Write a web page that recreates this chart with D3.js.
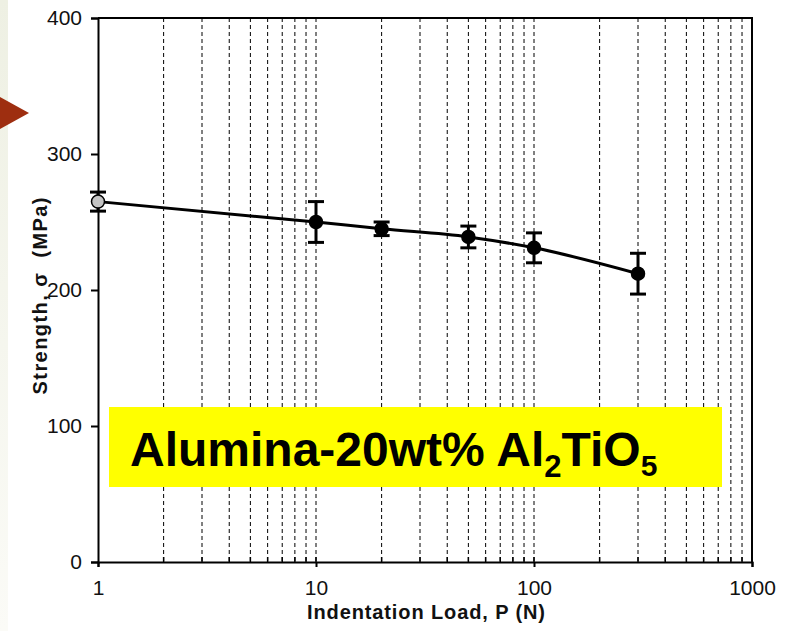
<!DOCTYPE html>
<html>
<head>
<meta charset="utf-8">
<script src="https://cdn.jsdelivr.net/npm/d3@7"></script>
<style>
  body { margin: 0; background: #fff; }
  svg { display: block; font-family: "Liberation Sans", Arial, sans-serif; }
  .axis text { fill: #111; font-size: 21px; }
  .axis path, .axis line { stroke: #000; stroke-width: 2; }
  .grid { stroke: #000; stroke-width: 1; stroke-dasharray: 4,3; }
  .axisLabel { font-weight: bold; fill: #111; }
</style>
</head>
<body>
<div id="chart"></div>
<script>
const width = 788;
const height = 631;
const plot = { left: 98, right: 752, top: 18, bottom: 562 };

// readings from the figure
const loads = [1, 10, 20, 50, 100, 300];
const strength = [265, 250, 245, 239, 231, 212];
const errors = [7, 15, 5, 8, 11, 15];
const xTicks = [1, 10, 100, 1000];
const yTicks = [0, 100, 200, 300, 400];

const svg = d3.select('#chart')
    .append('svg')
    .attr('width', width)
    .attr('height', height);

// slide decoration on the left
const bg = svg.append('defs').append('linearGradient')
    .attr('id', 'strip')
    .attr('x1', 0).attr('y1', 0).attr('x2', 0).attr('y2', 1);
bg.append('stop').attr('offset', '0%').attr('stop-color', '#eef0e3');
bg.append('stop').attr('offset', '100%').attr('stop-color', '#fbfbf7');
svg.append('rect')
    .attr('x', 0).attr('y', 0)
    .attr('width', 8).attr('height', height)
    .attr('fill', 'url(#strip)');
svg.append('path')
    .attr('d', 'M0,97L29,113L0,129Z')
    .attr('fill', '#9e2e10');

const xScale = d3.scaleLog()
    .domain([1, 1000])
    .range([plot.left, plot.right]);
const yScale = d3.scaleLinear()
    .domain([0, 400])
    .range([plot.bottom, plot.top]);

// minor + decade grid positions (2..10, 20..100, 200..900)
let gridVals = [];
[1, 10, 100].forEach(function (dec) {
    for (let m = 2; m <= 10; m++) {
        if (dec * m < 1000) gridVals.push(dec * m);
    }
});

svg.selectAll('.grid')
    .data(gridVals)
    .enter()
    .append('line')
    .attr('class', 'grid')
    .attr('x1', function (d) { return xScale(d); })
    .attr('x2', function (d) { return xScale(d); })
    .attr('y1', plot.top)
    .attr('y2', plot.bottom);

// small inner ticks on the x axis
svg.selectAll('.minor')
    .data(gridVals)
    .enter()
    .append('line')
    .attr('class', 'minor')
    .attr('x1', function (d) { return xScale(d); })
    .attr('x2', function (d) { return xScale(d); })
    .attr('y1', plot.bottom)
    .attr('y2', plot.bottom - 5)
    .attr('stroke', '#000')
    .attr('stroke-width', 1.5);

// frame
svg.append('path')
    .attr('d', 'M' + plot.left + ',' + plot.top + 'H' + plot.right + 'V' + plot.bottom)
    .attr('fill', 'none')
    .attr('stroke', '#000')
    .attr('stroke-width', 2);

const xAxis = d3.axisBottom(xScale)
    .tickValues(xTicks)
    .tickFormat(d3.format('d'))
    .tickSizeOuter(0)
    .tickSize(5)
    .tickPadding(13);
svg.append('g')
    .attr('class', 'axis')
    .attr('transform', 'translate(0,' + plot.bottom + ')')
    .call(xAxis);

const yAxis = d3.axisLeft(yScale)
    .tickValues(yTicks)
    .tickSizeOuter(0)
    .tickSize(7)
    .tickPadding(9);
svg.append('g')
    .attr('class', 'axis')
    .attr('transform', 'translate(' + plot.left + ',0)')
    .call(yAxis);

svg.append('text')
    .attr('class', 'axisLabel')
    .attr('x', 426)
    .attr('y', 619)
    .attr('text-anchor', 'middle')
    .attr('font-size', 20)
    .attr('textLength', 238)
    .text('Indentation Load, P (N)');

svg.append('text')
    .attr('class', 'axisLabel')
    .attr('transform', 'translate(47,296) rotate(-90)')
    .attr('text-anchor', 'middle')
    .attr('font-size', 20)
    .attr('textLength', 197)
    .attr('xml:space', 'preserve')
    .text('Strength, σ  (MPa)');

// yellow label box
svg.append('rect')
    .attr('x', 109)
    .attr('y', 407)
    .attr('width', 613)
    .attr('height', 80)
    .attr('fill', '#ffff00');
const lbl = svg.append('text')
    .attr('x', 130)
    .attr('y', 466)
    .attr('font-size', 48)
    .attr('font-weight', 'bold')
    .attr('fill', '#000');
lbl.append('tspan').text('Alumina-20wt% Al');
lbl.append('tspan').attr('dy', 11).attr('font-size', 31).text('2');
lbl.append('tspan').attr('dy', -11).text('TiO');
lbl.append('tspan').attr('dy', 10).attr('font-size', 30).text('5');

// curve through the means
const pts = loads.map(function (d, i) {
    return [xScale(d), yScale(strength[i])];
});
svg.append('path')
    .attr('d', d3.line().curve(d3.curveMonotoneX)(pts))
    .attr('fill', 'none')
    .attr('stroke', '#000')
    .attr('stroke-width', 3);

const bars = svg.selectAll('.err')
    .data(loads)
    .enter()
    .append('g')
    .attr('class', 'err');
bars.append('line')
    .attr('x1', function (d) { return xScale(d); })
    .attr('x2', function (d) { return xScale(d); })
    .attr('y1', function (d, i) { return yScale(strength[i] + errors[i]); })
    .attr('y2', function (d, i) { return yScale(strength[i] - errors[i]); })
    .attr('stroke', '#000')
    .attr('stroke-width', 3);
[1, -1].forEach(function (s) {
    bars.append('line')
        .attr('x1', function (d) { return xScale(d) - 8; })
        .attr('x2', function (d) { return xScale(d) + 8; })
        .attr('y1', function (d, i) { return yScale(strength[i] + s * errors[i]); })
        .attr('y2', function (d, i) { return yScale(strength[i] + s * errors[i]); })
        .attr('stroke', '#000')
        .attr('stroke-width', 3);
});

svg.selectAll('.dot')
    .data(loads)
    .enter()
    .append('circle')
    .attr('class', 'dot')
    .attr('cx', function (d) { return xScale(d); })
    .attr('cy', function (d, i) { return yScale(strength[i]); })
    .attr('r', 6.5)
    .attr('fill', function (d, i) { return i === 0 ? '#c4c4c4' : '#000'; })
    .attr('stroke', '#000')
    .attr('stroke-width', 1.5);
</script>
</body>
</html>
